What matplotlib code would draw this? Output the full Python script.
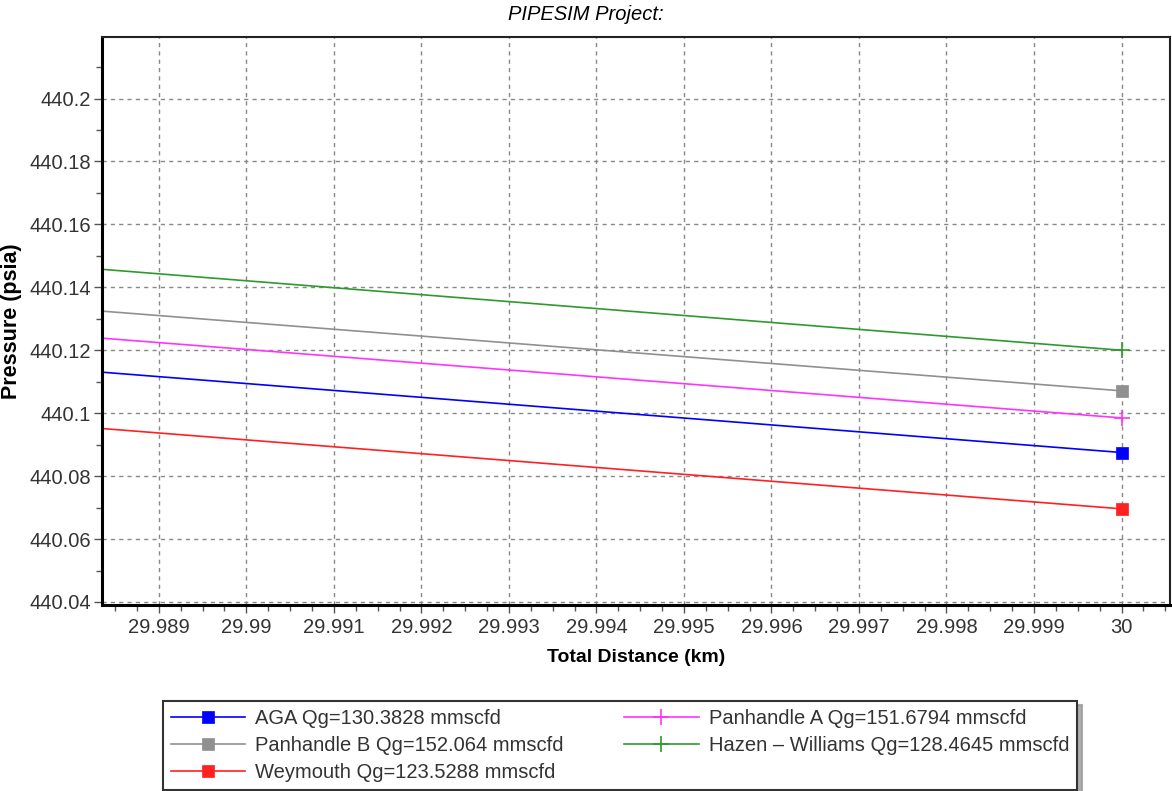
import matplotlib
matplotlib.use("Agg")
import matplotlib.pyplot as plt
from matplotlib.ticker import MultipleLocator, FuncFormatter
from matplotlib.lines import Line2D

plt.rcParams['font.family'] = ['Liberation Sans', 'DejaVu Sans']

distance = [29.988, 30.0]
series_names = [
    "AGA Qg=130.3828 mmscfd",
    "Panhandle A Qg=151.6794 mmscfd",
    "Panhandle B Qg=152.064 mmscfd",
    "Hazen \u2013 Williams Qg=128.4645 mmscfd",
    "Weymouth Qg=123.5288 mmscfd",
]
aga = [440.1138, 440.0875]
panhandle_a = [440.1246, 440.0985]
panhandle_b = [440.1332, 440.1071]
hazen_williams = [440.1465, 440.1200]
weymouth = [440.0959, 440.0696]

series_values = [aga, panhandle_a, panhandle_b, hazen_williams, weymouth]
colors = ["#0000ff", "#ff33ff", "#909090", "#2e9a2e", "#ff2020"]
markers = ["s", "+", "s", "+", "s"]

fig = plt.figure(figsize=(11.72, 7.91), dpi=100)
ax = fig.add_axes([0.087, 0.235, 0.911, 0.718])

for name, vals, c, m in zip(series_names, series_values, colors, markers):
    ax.plot(distance, vals, color=c, lw=1.2, marker=m, markevery=[len(vals) - 1],
            markersize=8 if m == "s" else 11, markeredgewidth=1.2 if m == "+" else 0.5,
            label=name, clip_on=True)

ax.set_xlim(29.98835, 30.00055)
ax.set_ylim(440.039, 440.2195)
ax.xaxis.set_major_locator(MultipleLocator(0.001))
ax.xaxis.set_minor_locator(MultipleLocator(0.00025))
ax.yaxis.set_major_locator(MultipleLocator(0.02))
ax.yaxis.set_minor_locator(MultipleLocator(0.01))

def xfmt(v, pos):
    return f"{v:.3f}".rstrip("0").rstrip(".")

def yfmt(v, pos):
    return f"{v:.2f}".rstrip("0").rstrip(".")

ax.xaxis.set_major_formatter(FuncFormatter(xfmt))
ax.yaxis.set_major_formatter(FuncFormatter(yfmt))

ax.tick_params(axis="both", which="major", labelsize=14.5, labelcolor="#333333",
               length=6, width=1, color="#555555", direction="out")
ax.tick_params(axis="y", which="major", pad=2)
ax.tick_params(axis="x", which="major", pad=3)
ax.tick_params(axis="both", which="minor", length=4, width=1, color="#555555", direction="out")

ax.grid(True, which="major", color="#888888", linestyle=(0, (3, 3)), linewidth=1)

for s in ["left", "bottom"]:
    ax.spines[s].set_linewidth(2.2)
    ax.spines[s].set_color("black")
for s in ["top", "right"]:
    ax.spines[s].set_linewidth(1.5)
    ax.spines[s].set_color("#222222")

ax.set_xlabel("Total Distance (km)", fontsize=14, fontweight="bold", labelpad=9)
ax.set_ylabel("Pressure (psia)", fontsize=15.5, fontweight="bold", labelpad=5)

fig.text(0.5, 0.982, "PIPESIM Project:", ha="center", va="center",
         fontsize=14.5, fontstyle="italic")

handles, labels = ax.get_legend_handles_labels()
order = [0, 2, 4, 1, 3]
leg_handles = []
for i in order:
    h = handles[i]
    leg_handles.append(Line2D([], [], color=h.get_color(), lw=1.2, marker=h.get_marker(),
                              markersize=h.get_markersize(), markeredgewidth=h.get_markeredgewidth()))
leg = fig.legend(leg_handles, [labels[i] for i in order], ncol=2, loc="center",
                 bbox_to_anchor=(0.529, 0.0575), bbox_transform=fig.transFigure,
                 fontsize=14.5, frameon=True, fancybox=False, handlelength=3.7,
                 handletextpad=0.5, columnspacing=3.0, labelspacing=0.38,
                 borderpad=0.4, borderaxespad=0,
                 shadow={"color": "#999999", "alpha": 0.8, "ox": 3, "oy": -3})
leg.get_frame().set_edgecolor("#333333")
leg.get_frame().set_linewidth(1.5)
for t in leg.get_texts():
    t.set_color("#333333")

fig.savefig("out.png", dpi=100)
